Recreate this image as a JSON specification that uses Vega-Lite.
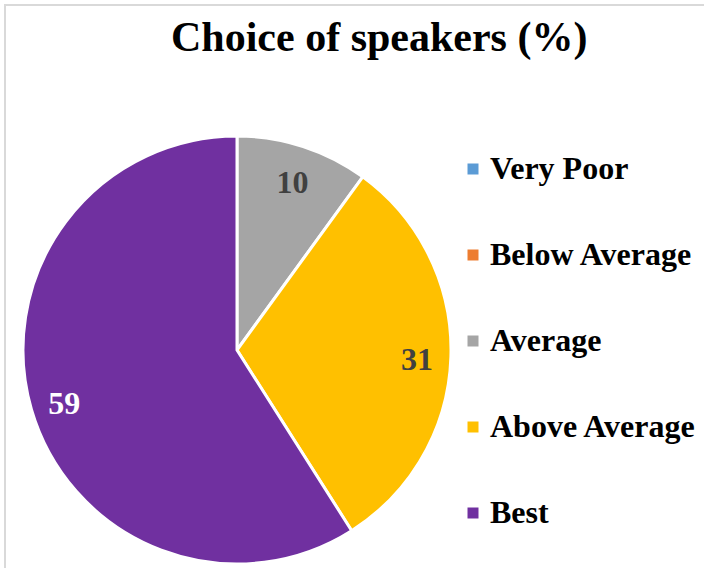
{
  "$schema": "https://vega.github.io/schema/vega-lite/v6.json",
  "width": 720,
  "height": 580,
  "autosize": "none",
  "padding": {"left": 5, "top": 5, "right": 0, "bottom": 0},
  "background": "white",
  "view": {"stroke": "#d9d9d9", "strokeWidth": 2},
  "title": {
    "text": "Choice of speakers  (%)",
    "font": "Liberation Serif",
    "fontSize": 42,
    "fontWeight": "bold",
    "color": "#000000",
    "anchor": "start",
    "frame": "group",
    "dx": 166,
    "baseline": "alphabetic",
    "offset": -88
  },
  "config": {
    "view": {"stroke": "#d9d9d9", "strokeWidth": 2}
  },
  "data": {
    "values": [
      {"category": "Very Poor", "rank": 1, "pct": 0},
      {"category": "Below Average", "rank": 2, "pct": 0},
      {"category": "Average", "rank": 3, "pct": 10},
      {"category": "Above Average", "rank": 4, "pct": 31},
      {"category": "Best", "rank": 5, "pct": 59}
    ]
  },
  "encoding": {
    "theta": {"field": "pct", "type": "quantitative", "stack": true},
    "order": {"field": "rank", "type": "quantitative"}
  },
  "layer": [
    {
      "mark": {"type": "arc", "x": 232, "y": 345, "outerRadius": 214, "stroke": "white", "strokeWidth": 3},
      "encoding": {
        "color": {
          "field": "category",
          "type": "nominal",
          "sort": ["Very Poor", "Below Average", "Average", "Above Average", "Best"],
          "scale": {
            "domain": ["Very Poor", "Below Average", "Average", "Above Average", "Best"],
            "range": ["#5b9bd5", "#ed7d31", "#a5a5a5", "#ffc000", "#7030a0"]
          },
          "legend": {
            "title": null,
            "orient": "none",
            "legendX": 452,
            "legendY": 148,
            "padding": 0,
            "symbolType": "square",
            "symbolSize": 121,
            "symbolStrokeWidth": 0,
            "labelFont": "Liberation Serif",
            "labelFontSize": 32,
            "labelFontWeight": "bold",
            "labelColor": "#000000",
            "labelOffset": 1,
            "labelLimit": 400,
            "rowPadding": 54
          }
        }
      }
    },
    {
      "transform": [{"filter": "datum.pct > 0"}],
      "mark": {"type": "text", "x": 232, "y": 345, "radius": 180, "dy": 4, "font": "Liberation Serif", "fontSize": 32, "fontWeight": "bold"},
      "encoding": {
        "text": {"field": "pct", "type": "quantitative"},
        "color": {
          "condition": {"test": "datum.category === 'Best'", "value": "#ffffff"},
          "value": "#404040"
        }
      }
    }
  ]
}
